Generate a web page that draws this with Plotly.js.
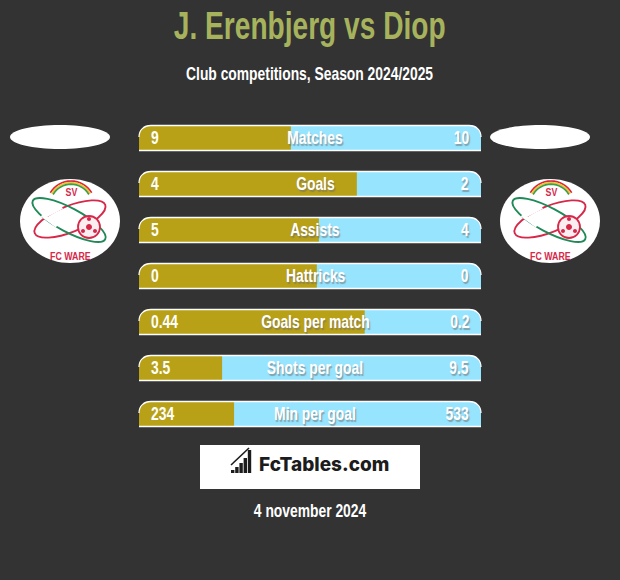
<!DOCTYPE html>
<html><head><meta charset="utf-8">
<script src="https://cdn.plot.ly/plotly-3.0.1.min.js"></script>
<style>html,body{margin:0;padding:0;background:#333}</style></head>
<body><div id="chart" style="width:620px;height:580px"></div>
<script>
const categories=["Matches","Goals","Assists","Hattricks","Goals per match","Shots per goal","Min per goal"];
const leftLabels=["9","4","5","0","0.44","3.5","234"];
const rightLabels=["10","2","4","0","0.2","9.5","533"];
const leftShare=[44.4,63.7,52.6,52.0,66.0,24.3,27.8];
const fullShare=[100,100,100,100,100,100,100];
const W=620,H=580,BG='#333333',OLIVE='#b8a116',BLUE='#97e4ff';
const FONT='"Liberation Sans",Arial,sans-serif';
const px=x=>x/W, py=y=>1-y/H;
const P=(s,o)=>Object.assign({type:'path',xref:'paper',yref:'paper',path:s,layer:'above',line:{width:0}},o);
const pt=(x,y)=>px(x).toFixed(5)+','+py(y).toFixed(5);
function ell(cx,cy,rx,ry,rot){const k=.5523,r=(rot||0)*Math.PI/180,c=Math.cos(r),s=Math.sin(r);
 const t=(u,v)=>pt(cx+u*rx*c-v*ry*s,cy+u*rx*s+v*ry*c);
 return `M${t(1,0)} C${t(1,k)} ${t(k,1)} ${t(0,1)} C${t(-k,1)} ${t(-1,k)} ${t(-1,0)} C${t(-1,-k)} ${t(-k,-1)} ${t(0,-1)} C${t(k,-1)} ${t(1,-k)} ${t(1,0)} Z`;}
function arc(cx,cy,r){const n=16;let d='';for(let i=0;i<=n;i++){const a=Math.PI*(1.17+.66*i/n);d+=(i?'L':'M')+pt(cx+r*Math.cos(a),cy+r*Math.sin(a))+' ';}return d;}
const shapes=[],annotations=[];
const T=(text,x,y,size,color,extra)=>annotations.push(Object.assign({text,xref:'paper',yref:'paper',x:px(x),y:py(y),showarrow:false,xanchor:'center',yanchor:'middle',font:{family:FONT,size,color,weight:700}},extra||{}));
T('J. Erenbjerg vs Diop',309.5,26,38,'#a6b35c');
T('Club competitions, Season 2024/2025',309.5,74,18,'#ffffff');
T('4 november 2024',309.5,511,18,'#ffffff');
const top0=125,pitch=46,h=26,L=139,R=481,rad=12;
categories.forEach((c,i)=>{const t=top0+i*pitch,b=t+h;
 shapes.push(P(`M${pt(L-1,t-1)} L${pt(L+rad,t-1)} L${pt(L+rad,t)} C${pt(L+5,t)} ${pt(L,t+5)} ${pt(L,t+rad)} L${pt(L-1,t+rad)} Z`,{fillcolor:BG}));
 shapes.push(P(`M${pt(R+1,t-1)} L${pt(R-rad,t-1)} L${pt(R-rad,t)} C${pt(R-5,t)} ${pt(R,t+5)} ${pt(R,t+rad)} L${pt(R+1,t+rad)} Z`,{fillcolor:BG}));
 shapes.push(P(`M${pt(L,t+rad)} C${pt(L,t+5)} ${pt(L+5,t+.5)} ${pt(L+rad,t+.5)} L${pt(R-rad,t+.5)} C${pt(R-5,t+.5)} ${pt(R,t+5)} ${pt(R,t+rad)}`,{line:{color:'#ffffff',width:1.3}}));
 shapes.push(P(`M${pt(L,b-.5)} L${pt(R,b-.5)}`,{line:{color:'#ffffff',width:1.3}}));
 const sh='1.5px 1.5px 1px rgba(110,110,110,.55)';
 annotations.push({text:c,xref:'x',yref:'y',x:51.5,y:c,yshift:1,showarrow:false,xanchor:'center',font:{family:FONT,size:19,color:'#ffffff',weight:700,shadow:sh}});
 annotations.push({text:leftLabels[i],xref:'x',yref:'y',x:0,y:c,xshift:9.5,yshift:1,showarrow:false,xanchor:'left',font:{family:FONT,size:19,color:'#ffffff',weight:700}});
 annotations.push({text:rightLabels[i],xref:'x',yref:'y',x:100,y:c,xshift:-10.5,yshift:1,showarrow:false,xanchor:'right',font:{family:FONT,size:19,color:'#ffffff',weight:700,shadow:sh}});
});
[60,540].forEach(cx=>shapes.push(P(ell(cx,137,50,12),{fillcolor:'#ffffff'})));
[70,550].forEach(cx=>{const cy=221;
 shapes.push(P(ell(cx,cy,50,42),{fillcolor:'#ffffff'}));
 shapes.push(P(arc(cx+1,205,24),{line:{color:'#d9263f',width:1.7}}));
 shapes.push(P(arc(cx+1,205,22.4),{line:{color:'#f2c230',width:1.7}}));
 shapes.push(P(arc(cx+1,205,20.8),{line:{color:'#3f9d4a',width:1.7}}));
 shapes.push(P(ell(cx,cy-2,38,13,-22),{line:{color:'#d6294a',width:1.9}}));
 shapes.push(P(ell(cx-1,cy-1,41,12,28),{line:{color:'#1f8a57',width:1.9}}));
 shapes.push(P(`M${pt(cx-27,217)} L${pt(cx-8,207)}`,{line:{color:'#ffffff',width:4}}));
 shapes.push(P(`M${pt(cx-28,215)} L${pt(cx-13,226)}`,{line:{color:'#ffffff',width:4}}));
 shapes.push(P(ell(cx+19,227,11,11),{fillcolor:'#fbeef0',line:{color:'#d6294a',width:1.8}}));
 shapes.push(P(ell(cx+19,227,3,3),{fillcolor:'#d6294a'}));
 shapes.push(P(ell(cx+13,231,2,2),{fillcolor:'#d6294a'}));
 shapes.push(P(ell(cx+25,231,2,2),{fillcolor:'#d6294a'}));
 shapes.push(P(ell(cx+19,219,2,2),{fillcolor:'#d6294a'}));
 T('SV',cx+1,192,11,'#d6294a');
 T('FC WARE',cx,256,11,'#d6294a');
});
shapes.push(P(`M${pt(200,445)} L${pt(420,445)} L${pt(420,489)} L${pt(200,489)} Z`,{fillcolor:'#ffffff'}));
[[231,3],[235.2,6],[239.4,10],[243.6,15],[247.8,23]].forEach(([x,hh])=>shapes.push(P(`M${pt(x,473)} L${pt(x+3.4,473)} L${pt(x+3.4,473-hh)} L${pt(x,473-hh)} Z`,{fillcolor:'#1c1c1c'})));
shapes.push(P(`M${pt(231,465)} L${pt(249,448)}`,{line:{color:'#1c1c1c',width:1.6}}));
T('FcTables.com',323.5,464,19,'#1c1c1c',{font:{family:'Inter,"Open Sans",sans-serif',size:19,color:'#1c1c1c',weight:800}});
const data=[
 {type:'bar',orientation:'h',y:categories,x:fullShare,marker:{color:BLUE,line:{width:0}},width:.565,hoverinfo:'skip'},
 {type:'bar',orientation:'h',y:categories,x:leftShare,marker:{color:OLIVE,line:{width:0}},width:.565,hoverinfo:'skip'}];
const layout={width:W,height:H,margin:{l:0,r:0,t:0,b:0},paper_bgcolor:BG,plot_bgcolor:BG,barmode:'overlay',showlegend:false,
 xaxis:{domain:[px(L),px(R)],range:[0,100],visible:false,fixedrange:true},
 yaxis:{domain:[py(115+7*pitch),py(115)],type:'category',categoryorder:'array',categoryarray:categories,range:[6.5,-0.5],visible:false,fixedrange:true},
 shapes,annotations};
Plotly.newPlot('chart',data,layout,{displayModeBar:false,staticPlot:true}).then(gd=>{
 // narrow the sans-serif text horizontally to match the condensed display face of the reference
 gd.querySelectorAll('.annotation').forEach(g=>{
  const a=annotations[+g.getAttribute('data-index')], tx=g.querySelector('text');
  if(!a||!tx||a.text==='FcTables.com')return;
  const s=a.font.size, sx=s>=30?.74:(s===18?.77:(s===19?.73:.8));
  const b=tx.getBBox(), ax=a.xanchor==='left'?b.x:(a.xanchor==='right'?b.x+b.width:b.x+b.width/2);
  const old=tx.getAttribute('transform')||'';
  tx.setAttribute('transform',`${old} translate(${ax},0) scale(${sx},1) translate(${-ax},0)`);
 });
});
</script></body></html>
